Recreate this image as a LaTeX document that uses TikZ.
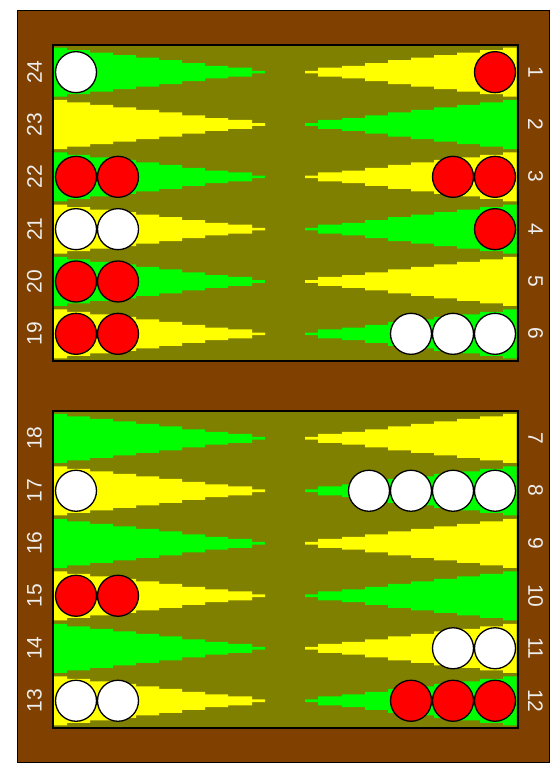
\documentclass[tikz,border=0pt]{standalone}
\usepackage{fontspec}
\setmainfont{Liberation Sans}
\definecolor{brd}{RGB}{128,64,0}
\definecolor{olv}{RGB}{128,128,0}
\definecolor{grn}{RGB}{0,255,0}
\definecolor{ylw}{RGB}{255,255,0}
\definecolor{rd}{RGB}{255,0,0}
\definecolor{lbltext}{RGB}{238,238,238}
\begin{document}
\begin{tikzpicture}[x=1pt,y=-1pt,
  lbl/.style={text=lbltext,inner sep=0pt,font=\fontsize{21}{21}\selectfont},
  chk/.style={circle,draw=black,line width=1.3pt,minimum size=41pt,inner sep=0pt},
  board/.style={draw=black,line width=2pt},
  pt/.pic={
    \fill[#1] (0,0)
      \foreach \a/\b/\h in {0/13.5/24.5,13.5/36.5/22,36.5/59.5/19.5,59.5/82.5/17,82.5/105.5/14.5,105.5/128.5/12,128.5/151.5/9,151.5/174.5/6.3,174.5/198.5/4.5,198.5/211.5/1.3}{ -- (\a,-\h) -- (\b,-\h) }
      -- (211.5,0)
      \foreach \a/\b/\h in {198.5/211.5/1.3,174.5/198.5/4.5,151.5/174.5/6.3,128.5/151.5/9,105.5/128.5/12,82.5/105.5/14.5,59.5/82.5/17,36.5/59.5/19.5,13.5/36.5/22,0/13.5/24.5}{ -- (\b,\h) -- (\a,\h) }
      -- cycle;
  }]
\useasboundingbox (0,0) rectangle (550,765);
\fill[white] (0,0) rectangle (550,765);
\draw[fill=brd,line width=1.5pt] (17.5,10.5) rectangle (549.5,762.5);
% playing areas
\fill[olv] (52.5,45) rectangle (517.5,361);
\fill[olv] (52.5,411) rectangle (517.5,728);
% triangles and labels
\foreach \k/\a/\b/\c/\d in {0/24/1/18/7,1/23/2/17/8,2/22/3/16/9,3/21/4/15/10,4/20/5/14/11,5/19/6/13/12}{
  \pgfmathsetmacro\yc{72.17+52.33*\k}
  \pgfmathsetmacro\yl{438.25+52.5*\k}
  \ifodd\k
    \def\cl{ylw}\def\cr{grn}
  \else
    \def\cl{grn}\def\cr{ylw}
  \fi
  \pic (t\a) at (53.5,\yc) {pt=\cl};
  \pic[xscale=-1] (t\b) at (516.5,\yc) {pt=\cr};
  \pic (t\c) at (53.5,\yl) {pt=\cl};
  \pic[xscale=-1] (t\d) at (516.5,\yl) {pt=\cr};
  \node[lbl,rotate=90] (n\a) at (34.5,\yc) {\a};
  \node[lbl,rotate=-90] (n\b) at (535.5,\yc) {\b};
  \node[lbl,rotate=90] (n\c) at (34.5,\yl) {\c};
  \node[lbl,rotate=-90] (n\d) at (535.5,\yl) {\d};
}
\draw[board] (52.5,45) rectangle (517.5,361);
\draw[board] (52.5,411) rectangle (517.5,728);
% checkers: point / x0 / dx / y / count / colour
\foreach \p/\x/\d/\y/\n/\c in {
  24/76/42/72.17/1/white,
  22/76/42/176.83/2/rd,
  21/76/42/229.16/2/white,
  20/76/42/281.49/2/rd,
  19/76/42/333.82/2/rd,
  1/495/-42/72.17/1/rd,
  3/495/-42/176.83/2/rd,
  4/495/-42/229.16/1/rd,
  6/495/-42/333.82/3/white,
  17/76/42/490.75/1/white,
  15/76/42/595.75/2/rd,
  13/76/42/700.75/2/white,
  8/495/-42/490.75/4/white,
  11/495/-42/648.25/2/white,
  12/495/-42/700.75/3/rd}{
  \foreach \i in {1,...,\n}{
    \node[chk,fill=\c] (c\p-\i) at ({\x+\d*(\i-1)},\y) {};
  }
}
\end{tikzpicture}
\end{document}
